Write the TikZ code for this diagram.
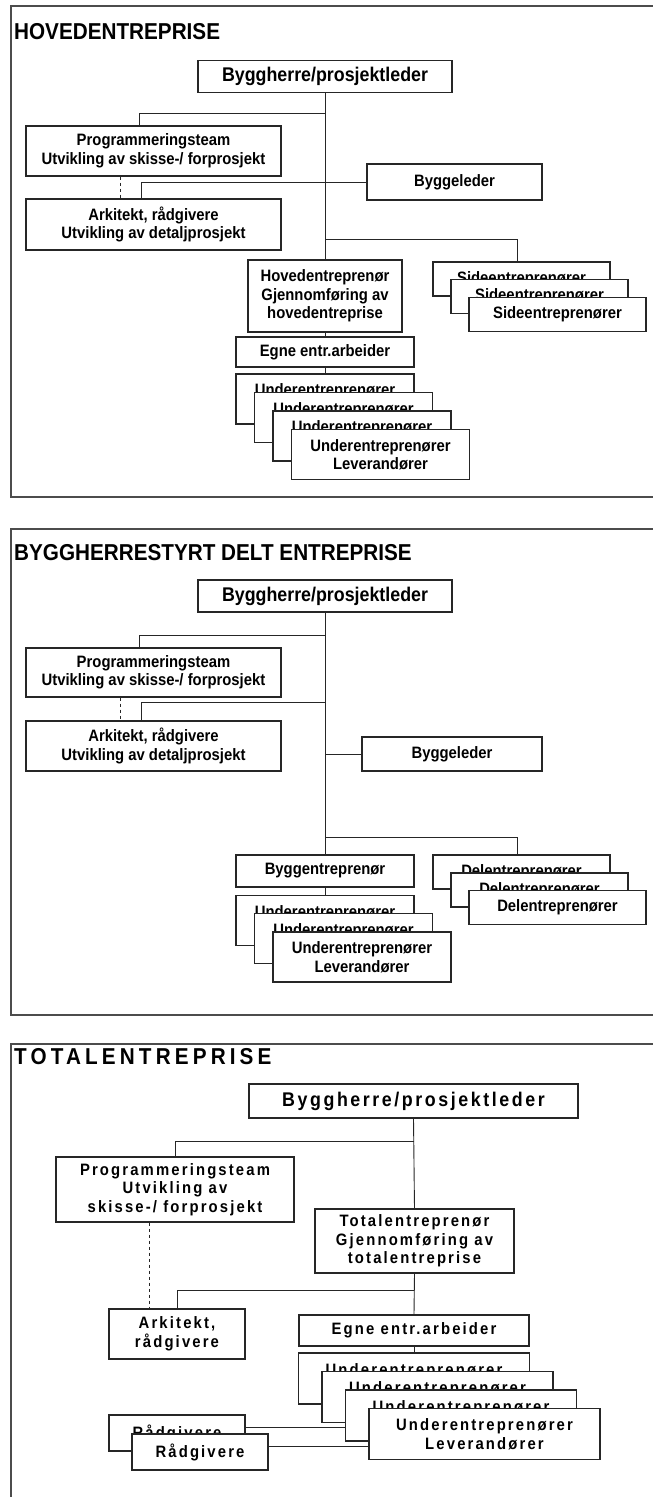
\documentclass[tikz,border=0pt]{standalone}
\usepackage{fontspec}
\setmainfont{Liberation Sans}[FakeStretch=0.9]
\newfontfamily\spacedfont{Liberation Sans}[FakeStretch=0.9, LetterSpace=13]
\usepackage{tikz}
\usetikzlibrary{calc}
\colorlet{lcol}{black!85}
\colorlet{fcol}{black!70}
\newcommand{\txt}{\bfseries\fontsize{16.5}{18.5}\selectfont}
\newcommand{\bigtxt}{\bfseries\fontsize{19.8}{22}\selectfont}
\newcommand{\titletxt}{\bfseries\fontsize{23}{26}\selectfont}
\newcommand{\undertxt}{Underentreprenører\\\phantom{Leverandører}}

\begin{document}
\begin{tikzpicture}[x=1pt, y=-1pt]
\tikzstyle{box}=[draw=lcol, line width=1.3pt, fill=white, inner sep=0pt, align=center, font=\txt]
\tikzstyle{topbox}=[box, font=\bigtxt, minimum height=32]
\tikzstyle{widebox}=[box, minimum width=255, minimum height=50]
\tikzstyle{subbox}=[box, minimum width=178, minimum height=50]
\tikzstyle{sidebox}=[box, minimum width=177, minimum height=34]
\tikzstyle{frame}=[line width=1.4pt, fcol]
\tikzstyle{link}=[line width=0.9pt, lcol]
\tikzstyle{title}=[anchor=west, inner sep=0pt, font=\titletxt]
\tikzstyle{wide}=[font=\txt\spacedfont]

\useasboundingbox (0,0) rectangle (653,1497);

% ---------------- hovedentreprise
\draw[frame] (653,6) -- (11,6) -- (11,497) -- (653,497);
\node[title] (t1) at (14,32) {HOVEDENTREPRISE};

\node[topbox, minimum width=254] (bh1) at (325,76.5) {Byggherre/prosjektleder};
\node[widebox] (prog1) at (153.5,151) {Programmeringsteam\\Utvikling av skisse-/ forprosjekt};
\node[box, minimum width=175, minimum height=36] (byl1) at (454.5,182) {Byggeleder};
\node[widebox, minimum height=51] (ark1) at (153.5,224.5) {Arkitekt, rådgivere\\Utvikling av detaljprosjekt};
\node[box, minimum width=154, minimum height=72] (hov1) at (325,296) {Hovedentreprenør\\Gjennomføring av\\hovedentreprise};
\node[box, minimum width=178, minimum height=30] (egne1) at (325,352) {Egne entr.arbeider};

\node[sidebox] (side1a) at (521.5,279) {Sideentreprenører};
\node[sidebox] (side1b) at (539.5,296.5) {Sideentreprenører};
\node[sidebox] (side1c) at (557.5,314.5) {Sideentreprenører};

\node[subbox] (und1a) at (325,399) {\undertxt};
\node[subbox] (und1b) at (343.5,417.5) {\undertxt};
\node[subbox] (und1c) at (362,436) {\undertxt};
\node[subbox] (und1d) at (380.5,454.5) {Underentreprenører\\Leverandører};

\coordinate (j1a) at (325,113);
\coordinate (j1b) at (325,239);
\draw[link] (bh1.south) -- (hov1.north);
\draw[link] (j1a) -| ([xshift=-14.5]prog1.north);
\draw[link] (byl1.west) -| ([xshift=-12.5]ark1.north);
\draw[link, dashed] ([xshift=-33.5]prog1.south) -- ([xshift=-33.5]ark1.north);
\draw[link] (j1b) -| ([xshift=-4.5]side1a.north);
\draw[link] (hov1.south) -- (egne1.north);
\draw[link] (egne1.south) -- (und1a.north);

% ---------------- byggherrestyrt delt entreprise
\draw[frame] (653,529) -- (11,529) -- (11,1015) -- (653,1015);
\node[title] (t2) at (14,553) {BYGGHERRESTYRT DELT ENTREPRISE};

\node[topbox, minimum width=254] (bh2) at (325,596) {Byggherre/prosjektleder};
\node[widebox, minimum height=49] (prog2) at (153.5,672.5) {Programmeringsteam\\Utvikling av skisse-/ forprosjekt};
\node[widebox] (ark2) at (153.5,746) {Arkitekt, rådgivere\\Utvikling av detaljprosjekt};
\node[box, minimum width=180, minimum height=34] (byl2) at (452,754) {Byggeleder};
\node[box, minimum width=178, minimum height=32] (bygg2) at (325,871) {Byggentreprenør};

\node[sidebox] (del2a) at (521.5,872) {Delentreprenører};
\node[sidebox] (del2b) at (539.5,890) {Delentreprenører};
\node[sidebox] (del2c) at (557.5,907.5) {Delentreprenører};

\node[subbox] (und2a) at (325,920.5) {\undertxt};
\node[subbox] (und2b) at (343.5,938.5) {\undertxt};
\node[subbox] (und2c) at (362,957) {Underentreprenører\\Leverandører};

\coordinate (j2a) at (325,635);
\coordinate (j2b) at (325,702);
\coordinate (j2c) at (325,754);
\coordinate (j2d) at (325,837);
\draw[link] (bh2.south) -- (bygg2.north);
\draw[link] (j2a) -| ([xshift=-14.5]prog2.north);
\draw[link] (j2b) -| ([xshift=-12.5]ark2.north);
\draw[link, dashed] ([xshift=-33.5]prog2.south) -- ([xshift=-33.5]ark2.north);
\draw[link] (j2c) -- (byl2.west);
\draw[link] (j2d) -| ([xshift=-4.5]del2a.north);
\draw[link] (bygg2.south) -- (und2a.north);

% ---------------- totalentreprise
\draw[frame] (653,1044) -- (11,1044) -- (11,1497);
\node[title, font=\titletxt\addfontfeature{LetterSpace=18}] (t3) at (14,1057) {TOTALENTREPRISE};

\node[topbox, wide, font=\bigtxt\spacedfont, minimum width=329, minimum height=34] (bh3) at (413.5,1101) {Byggherre/prosjektleder};
\node[box, wide, minimum width=238, minimum height=65] (prog3) at (175,1189.5) {Programmeringsteam\\Utvikling av\\skisse-/ forprosjekt};
\node[box, wide, minimum width=199, minimum height=64] (tot3) at (414.5,1241) {Totalentreprenør\\Gjennomføring av\\totalentreprise};
\node[box, wide, minimum width=136, minimum height=50] (ark3) at (177,1334) {Arkitekt,\\rådgivere};
\node[box, wide, minimum width=230, minimum height=31] (egne3) at (414,1330.5) {Egne entr.arbeider};

\node[box, wide, minimum width=231, minimum height=51] (und3a) at (414,1378.5) {\undertxt};
\node[box, wide, minimum width=231, minimum height=51] (und3b) at (437.5,1397) {\undertxt};
\node[box, wide, minimum width=231, minimum height=51] (und3c) at (461,1415.5) {\undertxt};
\node[box, wide, minimum width=231, minimum height=51] (und3d) at (484.5,1434) {Underentreprenører\\Leverandører};

\node[box, wide, minimum width=136, minimum height=36] (rad3a) at (177,1433) {Rådgivere};
\node[box, wide, minimum width=136, minimum height=36] (rad3b) at (200,1452) {Rådgivere};

\coordinate (j3a) at (414,1141);
\coordinate (j3b) at (414,1290);
\draw[link] (bh3.south) -- (tot3.north);
\draw[link] (j3a) -| (prog3.north);
\draw[link] (tot3.south) -- (egne3.north);
\draw[link] (j3b) -| (ark3.north);
\draw[link, dashed] ([xshift=-26]prog3.south) -- ([xshift=-28]ark3.north);
\draw[link] (egne3.south) -- (und3a.north);
\draw[link] ([yshift=6]rad3a.east) -- ([yshift=6]rad3a.east -| und3c.west);
\draw[link] ([yshift=6]rad3b.east) -- ([yshift=6]rad3b.east -| und3d.west);
\end{tikzpicture}
\end{document}
